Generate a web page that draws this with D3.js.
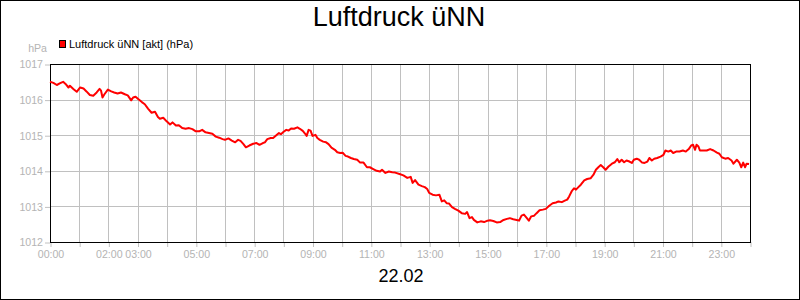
<!DOCTYPE html>
<html><head><meta charset="utf-8">
<script src="https://cdn.jsdelivr.net/npm/d3@7"></script>
<style>body{margin:0;background:#fff}svg{display:block}</style>
</head><body>
<svg id="chart" width="800" height="300"></svg>
<script>
const title = "Luftdruck üNN";
const dateLabel = "22.02";
const seriesName = "Luftdruck üNN [akt] (hPa)";
const unitLabel = "hPa";
const yTicks = [1012, 1013, 1014, 1015, 1016, 1017];
const xTickHours = d3.range(0, 25);
const xLabels = ["00:00","02:00","03:00","05:00","07:00","09:00","11:00","13:00","15:00","17:00","19:00","21:00","23:00"];

// minutes after midnight
const minutes = [0,7,14,21,27,32,38,41,48,55,62,69,75,82,89,96,102,105,108,112,119,126,132,139,146,154,160,167,171,176,182,189,195,202,209,216,222,226,233,240,247,252,259,265,272,279,286,293,300,307,313,320,327,334,341,348,355,360,
367,374,381,387,392,398,403,410,418,425,431,438,442,447,454,459,465,471,475,480,486,491,496,502,509,514,520,525,528,532,536,540,546,550,555,562,568,573,579,586,591,597,602,608,613,619,625,632,638,645,652,658,665,672,679,683,690,697,704,710,719,
727,735,742,746,751,758,765,771,776,780,787,794,801,806,811,816,821,827,833,840,847,854,858,863,868,872,879,886,893,900,905,912,919,926,933,940,946,953,960,965,970,975,981,985,990,996,1001,1007,1014,1020,1027,1034,1041,1046,1053,1059,1064,
1068,1073,1078,1082,1087,1092,1099,1105,1112,1118,1123,1128,1133,1138,1143,1149,1156,1162,1167,1171,1176,1181,1186,1192,1197,1201,1207,1212,1218,1223,1229,1233,1238,1243,1249,1256,1262,1266,1272,1277,1282,1288,1295,1302,1308,1314,1319,1323,1327,1330,1334,1337,1344,1351,1358,1365,1372,1377,1382,1389,1395,1402,1406,1413,1418,1422,1426,1430,1433,1438];
const pressure = [1016.50,1016.47,1016.41,1016.46,1016.50,1016.44,1016.34,1016.39,1016.30,1016.22,1016.34,1016.31,1016.23,1016.13,1016.11,1016.20,1016.30,1016.25,1016.06,1016.15,1016.28,1016.23,1016.20,1016.17,1016.20,1016.15,1016.12,1015.98,1016.06,1016.08,1016.01,1015.93,1015.87,1015.74,1015.63,1015.66,1015.51,1015.46,1015.49,1015.39,1015.30,1015.36,1015.27,1015.28,1015.20,1015.18,1015.20,1015.17,1015.11,1015.11,1015.15,1015.08,1015.06,1015.04,1014.96,1014.93,1014.89,1014.87,
1014.91,1014.85,1014.80,1014.87,1014.84,1014.75,1014.66,1014.71,1014.76,1014.78,1014.73,1014.78,1014.80,1014.89,1014.92,1014.92,1014.99,1015.06,1015.03,1015.09,1015.15,1015.13,1015.19,1015.18,1015.22,1015.18,1015.12,1015.04,1014.98,1015.15,1015.13,1014.98,1015.01,1014.92,1014.87,1014.82,1014.80,1014.75,1014.65,1014.59,1014.52,1014.50,1014.51,1014.42,1014.40,1014.36,1014.33,1014.31,1014.23,1014.23,1014.10,1014.10,1014.05,1014.00,1013.98,1014.03,1013.94,1013.98,1013.96,1013.95,1013.91,
1013.87,1013.80,1013.83,1013.66,1013.74,1013.61,1013.57,1013.54,1013.49,1013.38,1013.33,1013.31,1013.33,1013.14,1013.17,1013.09,1013.08,1012.98,1012.93,1012.88,1012.81,1012.79,1012.84,1012.67,1012.70,1012.62,1012.55,1012.58,1012.56,1012.60,1012.61,1012.59,1012.55,1012.56,1012.62,1012.65,1012.67,1012.64,1012.62,1012.60,1012.74,1012.77,1012.67,1012.60,1012.72,1012.74,1012.81,1012.89,1012.91,1012.93,1013.02,1013.09,1013.11,1013.14,1013.12,1013.16,1013.19,
1013.28,1013.42,1013.51,1013.47,1013.54,1013.61,1013.73,1013.77,1013.79,1013.89,1014.03,1014.10,1014.16,1014.10,1014.03,1014.12,1014.20,1014.24,1014.33,1014.24,1014.31,1014.24,1014.29,1014.26,1014.22,1014.31,1014.34,1014.31,1014.23,1014.22,1014.26,1014.36,1014.29,1014.34,1014.36,1014.40,1014.45,1014.57,1014.54,1014.57,1014.50,1014.54,1014.54,1014.57,1014.54,1014.61,1014.71,1014.73,1014.59,1014.73,1014.68,1014.57,1014.57,1014.57,1014.61,1014.57,1014.51,1014.48,1014.38,1014.34,1014.36,1014.29,1014.20,1014.31,1014.23,1014.10,1014.23,1014.10,1014.20,1014.19];

const data = minutes.map((m, i) => ({m, v: pressure[i]}));
const font = "'Liberation Sans', Arial, sans-serif";
const gridColor = "#c0c0c0";
const textGrey = "#b4b4b4";

const svg = d3.select("#chart");
const x = d3.scaleLinear().domain([0, 1440]).range([50, 750]);
const y = d3.scaleLinear().domain([1012, 1017]).range([242, 64]);

// outer border
svg.append("rect").attr("x", 0.5).attr("y", 0.5).attr("width", 799).attr("height", 299)
  .attr("fill", "#fff").attr("stroke", "#000");

// grid
svg.append("g").selectAll("line").data(xTickHours.slice(1, -1)).join("line")
  .attr("x1", d => Math.round(x(d * 60)) + 0.5).attr("x2", d => Math.round(x(d * 60)) + 0.5)
  .attr("y1", y(1017)).attr("y2", y(1012))
  .attr("stroke", gridColor).attr("stroke-width", 1);
svg.append("g").selectAll("line").data(yTicks.slice(1, -1)).join("line")
  .attr("x1", x(0)).attr("x2", x(1440))
  .attr("y1", d => Math.round(y(d)) + 0.5).attr("y2", d => Math.round(y(d)) + 0.5)
  .attr("stroke", gridColor).attr("stroke-width", 1);

// axes
const xAxis = d3.axisBottom(x)
  .tickValues(xTickHours.map(h => h * 60))
  .tickSize(5).tickPadding(3)
  .tickFormat(m => {
    const lab = String(Math.floor(m / 60)).padStart(2, "0") + ":00";
    return xLabels.includes(lab) ? lab : "";
  });
const gx = svg.append("g").attr("transform", `translate(0.5,${y(1012)})`).call(xAxis);
gx.select(".domain").remove();
gx.selectAll("line").attr("stroke", gridColor);
gx.selectAll("text").attr("fill", textGrey).style("font-family", font).style("font-size", "10.6px");

const yAxis = d3.axisLeft(y).tickValues(yTicks).tickSize(5).tickPadding(2).tickFormat(d3.format("d"));
const gy = svg.append("g").attr("transform", `translate(${x(0)},0.5)`).call(yAxis);
gy.select(".domain").remove();
gy.selectAll("line").attr("stroke", gridColor);
gy.selectAll("text").attr("fill", textGrey).style("font-family", font).style("font-size", "10.6px");

// plot frame
svg.append("rect").attr("x", x(0) + 0.5).attr("y", y(1017) + 0.5)
  .attr("width", x(1440) - x(0)).attr("height", y(1012) - y(1017))
  .attr("fill", "none").attr("stroke", "#000").attr("stroke-width", 1);

// line
const line = d3.line().x(d => x(d.m)).y(d => y(d.v));
svg.append("path").datum(data).attr("d", line)
  .attr("fill", "none").attr("stroke", "#ff0000").attr("stroke-width", 2)
  .attr("stroke-linejoin", "round");

// title
svg.append("text").attr("x", 399).attr("y", 26).attr("text-anchor", "middle")
  .style("font-family", font).style("font-size", "27px").attr("fill", "#000").text(title);

// date
svg.append("text").attr("x", 401).attr("y", 282).attr("text-anchor", "middle")
  .style("font-family", font).style("font-size", "18px").attr("fill", "#000").text(dateLabel);

// unit
svg.append("text").attr("x", 47).attr("y", 52).attr("text-anchor", "end")
  .style("font-family", font).style("font-size", "10.6px").attr("fill", textGrey).text(unitLabel);

// legend
svg.append("rect").attr("x", 59.5).attr("y", 40.5).attr("width", 6).attr("height", 7)
  .attr("fill", "#ff0000").attr("stroke", "#000");
svg.append("text").attr("x", 69).attr("y", 48)
  .style("font-family", font).style("font-size", "11px").attr("fill", "#000").text(seriesName);
</script>
</body></html>
